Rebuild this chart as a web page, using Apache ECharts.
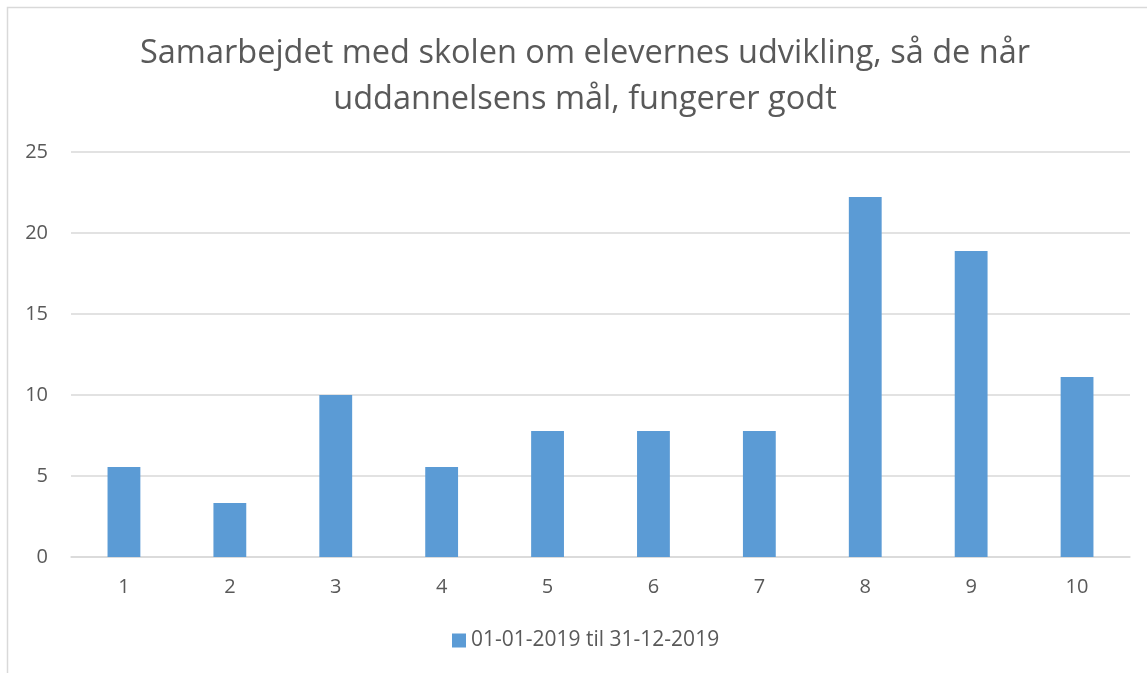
<!DOCTYPE html>
<html><head><meta charset="utf-8">
<script src="https://cdn.jsdelivr.net/npm/echarts@6/dist/echarts.min.js"></script>
<style>html,body{margin:0;padding:0;background:#fff}#c{width:1147px;height:673px}</style>
</head><body><div id="c"></div>
<script>
const categories = ['1','2','3','4','5','6','7','8','9','10'];
const values = [5.56, 3.33, 10, 5.56, 7.78, 7.78, 7.78, 22.22, 18.89, 11.11];
const seriesName = '01-01-2019 til 31-12-2019';
const titleText = 'Samarbejdet med skolen om elevernes udvikling, så de når\nuddannelsens mål, fungerer godt';

const chart = echarts.init(document.getElementById('c'));
const font = 'Open Sans';
chart.setOption({
  animation: false,
  textStyle: {fontFamily: font},
  graphic: [{type:'rect', shape:{x:7.5,y:7.5,width:1160,height:700}, style:{fill:'none', stroke:'#d9d9d9', lineWidth:1.5}, silent:true}],
  title: {text: titleText, left: 580, textAlign: 'center', top: 26,
    textStyle:{fontFamily:font, fontSize:32.5, fontWeight:'normal', color:'#595959', lineHeight:46}},
  grid: {left:71, right:17, top:152, bottom:116, containLabel:false},
  legend: {bottom: 17, left: 447, itemWidth:14, itemHeight:14, itemGap:4,
    icon:'rect', textStyle:{fontFamily:font, fontSize:21, color:'#595959'}},
  xAxis: {type:'category', data: categories,
    axisLine:{lineStyle:{color:'#d9d9d9', width:1.5}}, axisTick:{show:false},
    axisLabel:{fontFamily:font, fontSize:20, color:'#595959', margin:20}},
  yAxis: {type:'value', min:0, max:25, interval:5,
    axisLine:{show:false}, axisTick:{show:false},
    splitLine:{lineStyle:{color:'#d9d9d9', width:1.5}},
    axisLabel:{fontFamily:font, fontSize:20, color:'#595959', margin:23}},
  series: [{type:'bar', name: seriesName, data: values, barWidth:'31%',
    itemStyle:{color:'#5b9bd5'}}]
});
</script></body></html>
